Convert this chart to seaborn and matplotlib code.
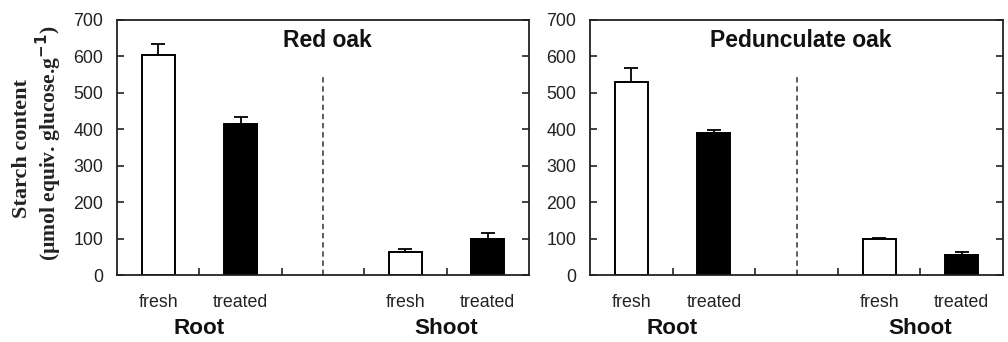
import matplotlib
matplotlib.use("Agg")
import matplotlib.pyplot as plt
import matplotlib.transforms as mtransforms
import seaborn as sns
import pandas as pd
import numpy as np

# ---------------- data ----------------
species = ["Red oak", "Pedunculate oak"]
organs = ["Root", "Root", "Shoot", "Shoot"]
treatments = ["fresh", "treated", "fresh", "treated"]
slots = ["Root fresh", "Root treated", "Shoot fresh", "Shoot treated"]
red_oak_values = [605, 414, 63, 99]
red_oak_errors = [28, 19, 8, 16]
ped_oak_values = [531, 389, 99, 55]
ped_oak_errors = [38, 8, 3, 7]
order = ["Root fresh", "Root treated", "gap", "Shoot fresh", "Shoot treated"]
tick_labels = ["fresh", "treated", "", "fresh", "treated"]
group_labels = ["Root", "Shoot"]
yticks = [0, 100, 200, 300, 400, 500, 600, 700]

sns.set_theme(style="ticks")
plt.rcParams["font.family"] = ["Liberation Sans", "DejaVu Sans"]

fig = plt.figure(figsize=(10.08, 3.42), dpi=100)
W, H = 1008, 342
axes = [
    fig.add_axes([117 / W, 1 - 275 / H, (529 - 117) / W, 255 / H]),
    fig.add_axes([590 / W, 1 - 275 / H, (1003 - 590) / W, 255 / H]),
]

all_vals = [red_oak_values, ped_oak_values]
all_errs = [red_oak_errors, ped_oak_errors]

for ax, name, vals, errs in zip(axes, species, all_vals, all_errs):
    df = pd.DataFrame({"slot": slots, "treatment": treatments,
                       "organ": organs, "value": vals, "err": errs})
    sns.barplot(data=df, x="slot", y="value", hue="treatment", order=order,
                palette={"fresh": "white", "treated": "black"},
                edgecolor="black", linewidth=1.4, width=0.4, dodge=False,
                legend=False, errorbar=None, ax=ax, zorder=2)
    xpos = [order.index(s) for s in df["slot"]]
    ax.errorbar(xpos, df["value"], yerr=[np.zeros(len(errs)), df["err"]],
                fmt="none", ecolor="black", elinewidth=1.3, capsize=5,
                capthick=1.3, zorder=1)
    ax.set_xlim(-0.5, 4.5)
    ax.set_ylim(0, 700)
    ax.set_yticks(yticks)
    ax.set_xticks(range(len(order)))
    ax.set_xticklabels(tick_labels, fontsize=12.8, color="#222222")
    ax.tick_params(axis="x", length=0, pad=14)
    ax.set_xticks([0.5, 1.5, 2.5, 3.5], minor=True)
    ax.tick_params(axis="x", which="minor", direction="in", length=5,
                   width=1.2, bottom=True, top=False, color="#222222")
    ax.tick_params(axis="y", direction="in", length=5, width=1.2,
                   left=True, right=True, labelsize=12.8, pad=10,
                   colors="#222222")
    ax.set_xlabel("")
    ax.set_ylabel("")
    for sp in ax.spines.values():
        sp.set_visible(True)
        sp.set_linewidth(1.3)
        sp.set_color("#222222")
    ax.vlines(order.index("gap"), 0, 550, colors="#333333",
              linestyles=(0, (3.5, 2.5)), linewidth=1.1)
    ax.text(0.51, 0.918, name, transform=ax.transAxes, ha="center",
            va="center", fontsize=16.5, fontweight="bold", color="#111111")
    trans = mtransforms.blended_transform_factory(ax.transData, ax.transAxes)
    for lab in group_labels:
        idx = [order.index(s) for s in slots if s.startswith(lab)]
        ax.text(np.mean(idx), -0.208, lab, transform=trans, ha="center",
                va="center", fontsize=16.2, fontweight="bold",
                color="#111111")

fig.text(22 / W, 0.565, "Starch content", rotation=90, ha="center",
         va="center", fontsize=16, fontweight="bold",
         family=["Liberation Serif", "DejaVu Serif"], color="#222222")
fig.text(49 / W, 0.58, r"(µmol equiv. glucose.g$^{\mathbf{-1}}$)", rotation=90,
         ha="center", va="center", fontsize=15.5, fontweight="bold",
         family=["Liberation Serif", "DejaVu Serif"], color="#222222")

fig.savefig("out.png", dpi=100)
